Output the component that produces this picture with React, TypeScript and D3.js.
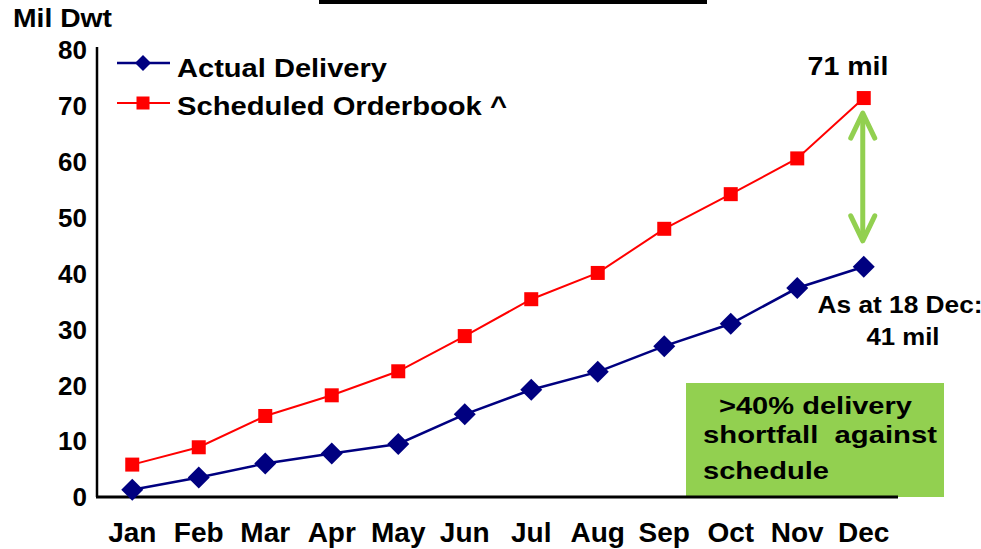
import React from "react";
import * as d3 from "d3";

const months = ["Jan", "Feb", "Mar", "Apr", "May", "Jun", "Jul", "Aug", "Sep", "Oct", "Nov", "Dec"];
const actualDelivery = [1.3, 3.5, 6.0, 7.8, 9.5, 14.8, 19.2, 22.4, 27.0, 31.0, 37.4, 41.2];
const scheduledOrderbook = [5.8, 8.9, 14.5, 18.2, 22.5, 28.8, 35.4, 40.1, 48.0, 54.2, 60.6, 71.4];
const yTicks = [0, 10, 20, 30, 40, 50, 60, 70, 80];

const W = 981;
const H = 549;
const FONT = "'Liberation Sans', Arial, Helvetica, sans-serif";
const NAVY = "#000080";
const RED = "#ff0000";
const GREEN = "#92d050";

const App: React.FC = () => {
  const axisLeft = 97;
  const axisRight = 898;
  const x = d3.scaleBand<string>().domain(months).range([99, 897]);
  const cx = (m: string) => (x(m) || 0) + x.bandwidth() / 2;
  const y = d3.scaleLinear().domain([0, 80]).range([497, 50]);

  const line = d3
    .line<number>()
    .x((_, i) => cx(months[i]))
    .y((d) => y(d));

  const diamond = (px: number, py: number, r: number) =>
    `M${px},${py - r}L${px + r},${py}L${px},${py + r}L${px - r},${py}Z`;

  const decX = cx("Dec");
  const arrowTop = y(scheduledOrderbook[11]) + 15;
  const arrowBot = y(actualDelivery[11]) - 26;

  return (
    <svg
      width={W}
      height={H}
      style={{ position: "absolute", left: 0, top: 0, background: "#fff" }}
      fontFamily={FONT}
      fontWeight="bold"
    >
      <rect x={319} y={0} width={388} height={4} fill="#000" />

      <text x={13} y={27} fontSize={26} textLength={99} lengthAdjust="spacingAndGlyphs">
        Mil Dwt
      </text>

      {/* green callout box */}
      <rect x={686} y={383} width={258} height={114} fill={GREEN} />
      <text x={719} y={414} fontSize={24} textLength={193} lengthAdjust="spacingAndGlyphs">
        &gt;40% delivery
      </text>
      <text x={703} y={443} fontSize={24} textLength={234} lengthAdjust="spacingAndGlyphs" xmlSpace="preserve">
        shortfall  against
      </text>
      <text x={703} y={479} fontSize={24} textLength={126} lengthAdjust="spacingAndGlyphs">
        schedule
      </text>

      {/* axes */}
      <line x1={axisLeft} x2={axisLeft} y1={47} y2={497} stroke="#000" strokeWidth={2.5} />
      <line x1={axisLeft - 1} x2={axisRight} y1={497} y2={497} stroke="#000" strokeWidth={3} />

      {yTicks.map((t) => (
        <text key={t} x={87} y={y(t)} dy="0.36em" fontSize={26} textAnchor="end">
          {t}
        </text>
      ))}
      {months.map((m) => (
        <text key={m} x={cx(m)} y={542} fontSize={28} textAnchor="middle">
          {m}
        </text>
      ))}

      {/* series */}
      <path d={line(scheduledOrderbook) || ""} fill="none" stroke={RED} strokeWidth={2} />
      <path d={line(actualDelivery) || ""} fill="none" stroke={NAVY} strokeWidth={2.5} />
      {scheduledOrderbook.map((v, i) => (
        <rect key={i} x={cx(months[i]) - 7} y={y(v) - 7} width={14} height={14} fill={RED} />
      ))}
      {actualDelivery.map((v, i) => (
        <path key={i} d={diamond(cx(months[i]), y(v), 11)} fill={NAVY} />
      ))}

      {/* gap arrow */}
      <g stroke={GREEN} strokeWidth={5} fill="none" strokeLinecap="round" strokeLinejoin="round">
        <line x1={decX - 1} x2={decX - 1} y1={arrowTop + 2} y2={arrowBot - 2} />
        <polyline points={`${decX - 13},${arrowTop + 25} ${decX - 1},${arrowTop} ${decX + 11},${arrowTop + 25}`} />
        <polyline points={`${decX - 13},${arrowBot - 25} ${decX - 1},${arrowBot} ${decX + 11},${arrowBot - 25}`} />
      </g>

      {/* annotations */}
      <text x={848} y={75} fontSize={25} textAnchor="middle" textLength={81} lengthAdjust="spacingAndGlyphs">
        71 mil
      </text>
      <text x={900} y={313} fontSize={23} textAnchor="middle" textLength={165} lengthAdjust="spacingAndGlyphs">
        As at 18 Dec:
      </text>
      <text x={903} y={345} fontSize={24} textAnchor="middle" textLength={73} lengthAdjust="spacingAndGlyphs">
        41 mil
      </text>

      {/* legend */}
      <line x1={117} x2={170} y1={63} y2={63} stroke={NAVY} strokeWidth={2.5} />
      <path d={diamond(143, 63, 8)} fill={NAVY} />
      <text x={177} y={77} fontSize={25} textLength={210} lengthAdjust="spacingAndGlyphs">
        Actual Delivery
      </text>
      <line x1={117} x2={170} y1={103} y2={103} stroke={RED} strokeWidth={2} />
      <rect x={136.5} y={96.5} width={13} height={13} fill={RED} />
      <text x={177} y={115} fontSize={25} textLength={330} lengthAdjust="spacingAndGlyphs">
        Scheduled Orderbook ^
      </text>
    </svg>
  );
};

export default App;
